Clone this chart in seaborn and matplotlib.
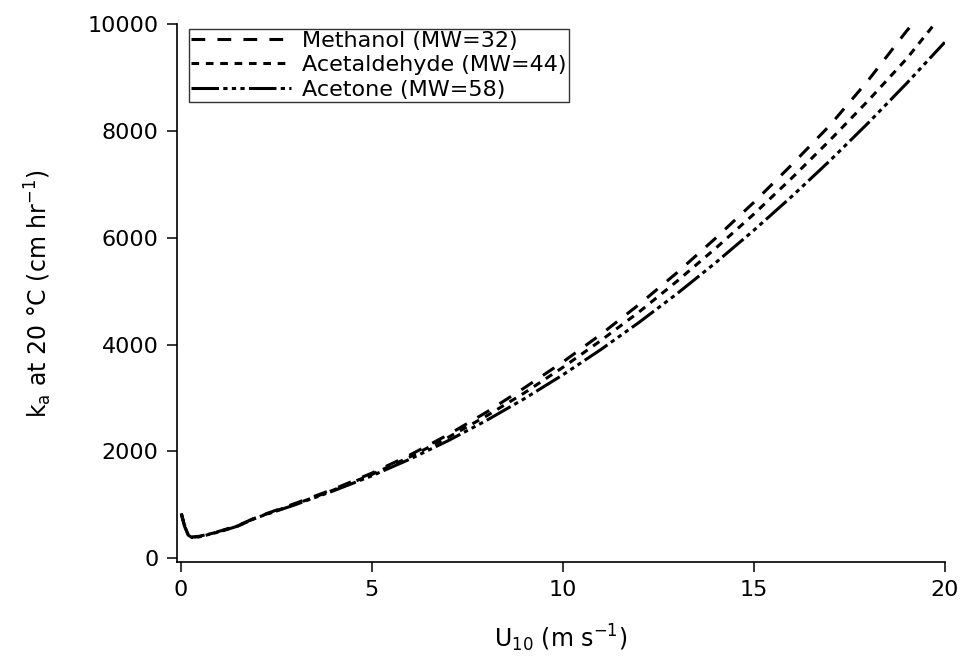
import numpy as np
import pandas as pd
import seaborn as sns
import matplotlib
matplotlib.use("Agg")
import matplotlib.pyplot as plt

# wind speed U10 (m/s)
u10 = [0.02, 0.1, 0.2, 0.3, 0.5, 1, 1.5, 2, 3, 4, 5, 6, 7, 8, 9, 10,
       11, 12, 13, 14, 15, 16, 17, 18, 19, 20]

# k_a at 20 C (cm/hr)
methanol = [840, 620, 440, 395, 410, 500, 610, 770, 1025, 1290, 1590, 1930,
            2310, 2730, 3190, 3670, 4190, 4750, 5350, 5990, 6660, 7370,
            8110, 8950, 9870, 10710]
acetaldehyde = [830, 610, 435, 390, 405, 495, 605, 765, 1010, 1275, 1565,
                1895, 2260, 2660, 3095, 3570, 4075, 4610, 5190, 5800, 6440,
                7120, 7830, 8570, 9350, 10240]
acetone = [820, 600, 430, 385, 400, 490, 600, 760, 1000, 1260, 1540, 1853,
           2198, 2576, 2987, 3430, 3906, 4415, 4956, 5530, 6137, 6775, 7447,
           8152, 8889, 9660]

names = ["Methanol (MW=32)", "Acetaldehyde (MW=44)", "Acetone (MW=58)"]

df = pd.concat([
    pd.DataFrame({"u10": u10, "ka": methanol, "compound": names[0]}),
    pd.DataFrame({"u10": u10, "ka": acetaldehyde, "compound": names[1]}),
    pd.DataFrame({"u10": u10, "ka": acetone, "compound": names[2]}),
])

sns.set_style("white")
plt.rcParams["font.family"] = ["DejaVu Sans"]
plt.rcParams["mathtext.fontset"] = "dejavusans"
plt.rcParams["text.color"] = "black"
plt.rcParams["axes.labelcolor"] = "black"
plt.rcParams["xtick.color"] = "black"
plt.rcParams["ytick.color"] = "black"

fig = plt.figure(figsize=(9.66, 6.70), dpi=100)
ax = fig.add_axes([0.183, 0.161, 0.795, 0.803])

dash_styles = [(4.5, 4.0), (2.5, 2.2), (9, 1.4, 1.4, 1.4, 1.4, 1.4, 1.4, 1.4)]
sns.lineplot(data=df, x="u10", y="ka", style="compound", style_order=names,
             dashes=dash_styles, color="black", linewidth=2.2, ax=ax,
             legend=True)

ax.set_xlim(-0.1, 20)
ax.set_ylim(-75, 10000)
ax.set_xticks([0, 5, 10, 15, 20])
ax.set_yticks([0, 2000, 4000, 6000, 8000, 10000])
for s in ["top", "right"]:
    ax.spines[s].set_visible(False)
for s in ["left", "bottom"]:
    ax.spines[s].set_linewidth(1.2)
    ax.spines[s].set_color("black")
ax.tick_params(axis="both", direction="out", length=7, width=1.1,
               colors="black", labelsize=16, pad=6, bottom=True, left=True)

ax.set_xlabel(r"U$_{10}$ (m s$^{-1}$)", fontsize=17, labelpad=16)
ax.set_ylabel(r"k$_\mathrm{a}$ at 20 °C (cm hr$^{-1}$)", fontsize=17, labelpad=24)

old = ax.get_legend()
handles = old.legend_handles
labels = [t.get_text() for t in old.get_texts()]
leg = ax.legend(handles, labels, loc="upper left", bbox_to_anchor=(0.01, 1.0),
                fontsize=16, frameon=True, fancybox=False, handlelength=4.5,
                handletextpad=0.5, borderpad=0.1, labelspacing=0.2,
                borderaxespad=0.2)
leg.get_frame().set_edgecolor("black")
leg.get_frame().set_linewidth(1.0)
for line, d in zip(leg.get_lines(), dash_styles):
    line.set_color("black")
    line.set_linewidth(2.2)
    line.set_dashes(d)

fig.savefig("out.png", dpi=100)
